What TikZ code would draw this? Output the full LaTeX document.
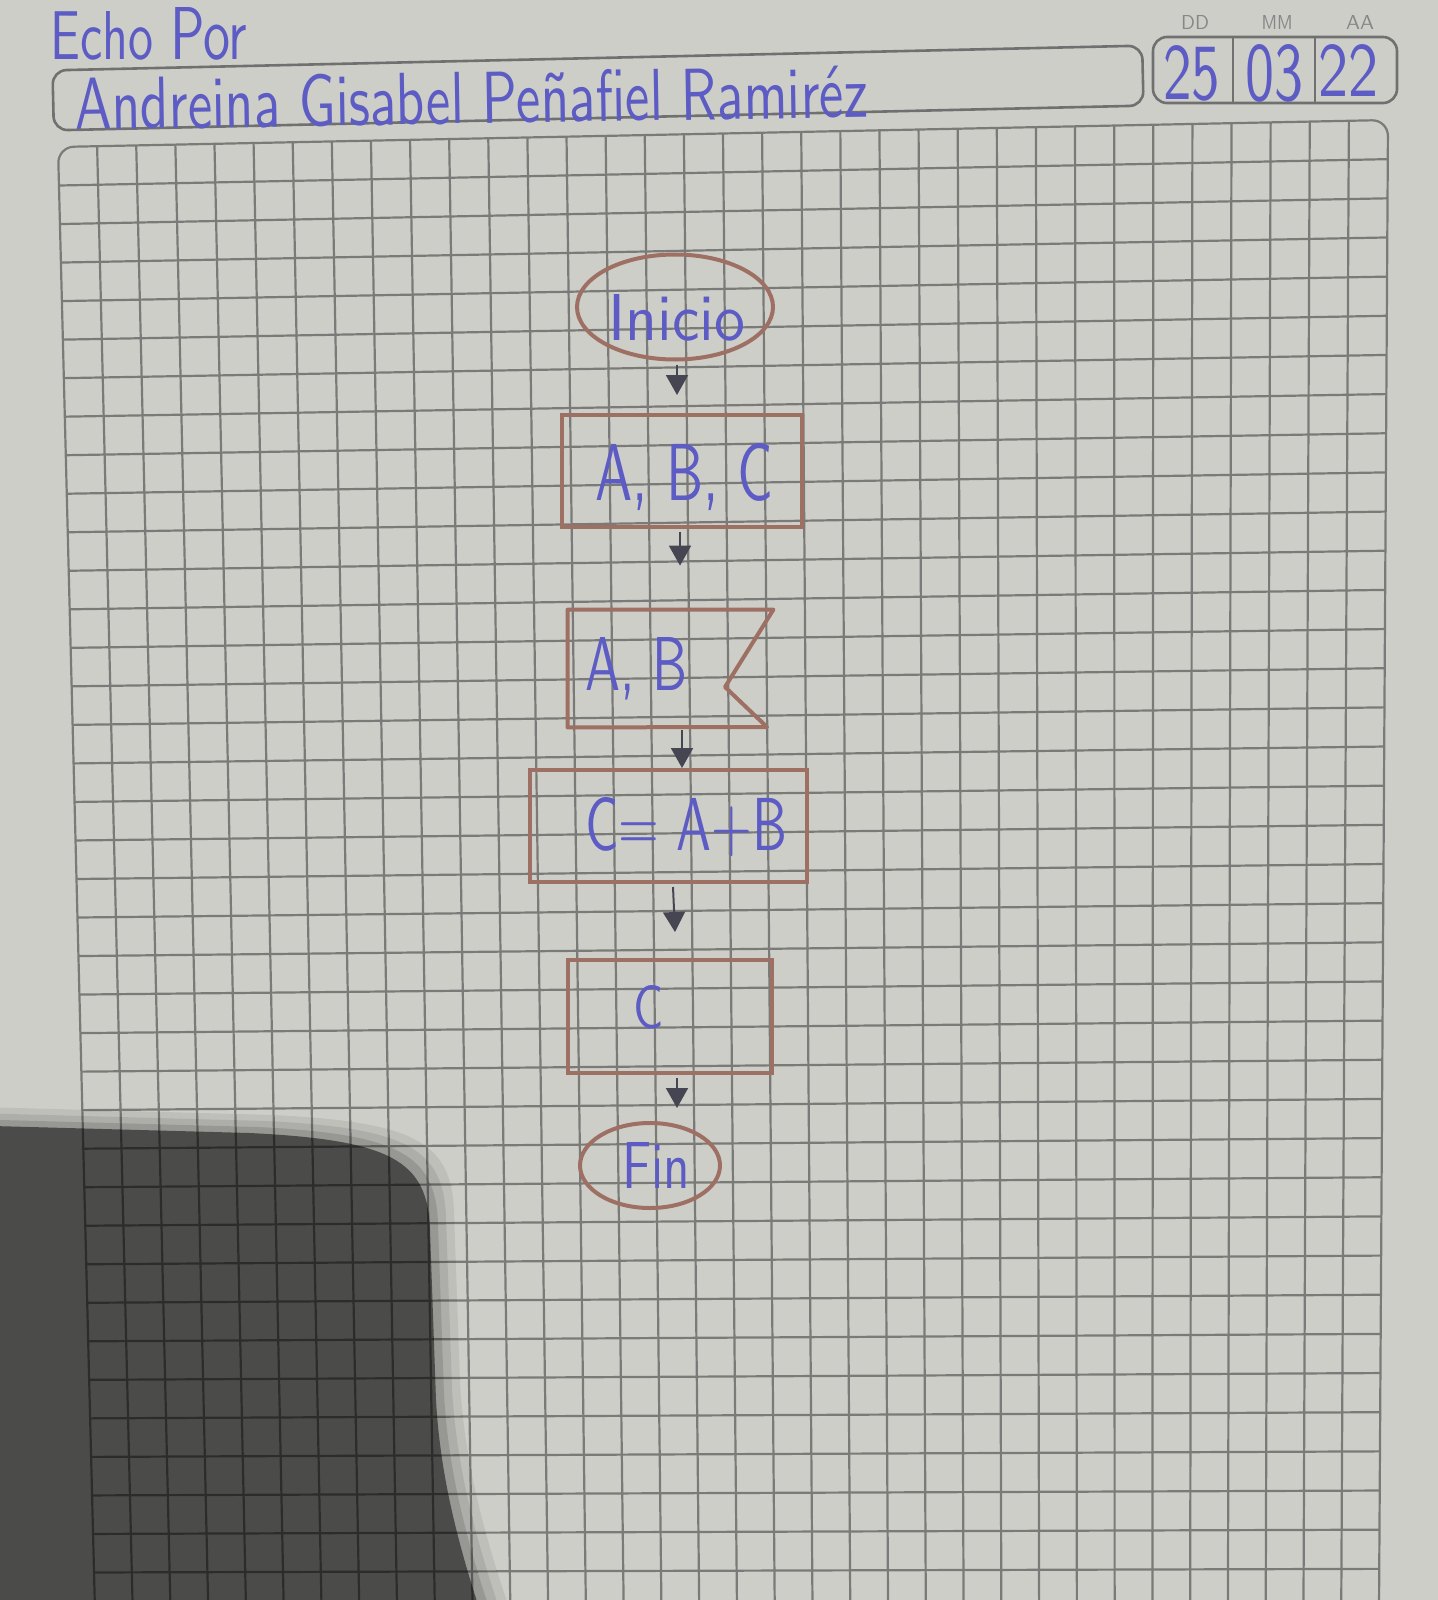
\documentclass[tikz,border=0pt]{standalone}
\usepackage{graphicx}
\usetikzlibrary{arrows.meta,shapes.geometric}
\newdimen\mypx \mypx=0.5pt
\newcommand\fit[3]{\resizebox{#1\mypx}{#2\mypx}{\sffamily #3}}
\newcommand\shadowpath{(-80,1124) -- (250,1133) .. controls (390,1140) and (428,1160) .. (430,1230) -- (436,1400) .. controls (440,1470) and (455,1540) .. (490,1640) -- (-80,1640) -- cycle}
\definecolor{paper}{RGB}{206,206,201}
\definecolor{gridgray}{RGB}{122,122,120}
\definecolor{boxgray}{RGB}{112,112,112}
\definecolor{labelgray}{RGB}{135,135,135}
\definecolor{inkblue}{RGB}{92,92,196}
\definecolor{pencil}{RGB}{158,112,100}
\definecolor{pen}{RGB}{70,70,82}
\begin{document}
\begin{tikzpicture}[x=0.5pt,y=-0.5pt,
  ink/.style={inner sep=0pt, anchor=base west, text=inkblue},
  shapebox/.style={draw=pencil, line width=2pt, inner sep=0pt},
  term/.style={shapebox, ellipse},
  proc/.style={shapebox, rectangle},
  flow/.style={draw=pen, line width=1pt, -{Triangle[width=11pt,length=10pt]}},
  gridline/.style={draw=gridgray, line width=1.1pt},
  hdrbox/.style={draw=boxgray, line width=1.3pt, rounded corners=7pt, inner sep=0pt}]
\useasboundingbox (0,0) rectangle (1438,1600);
\clip (0,0) rectangle (1438,1600);
\fill[paper] (0,0) rectangle (1438,1600);
% grid paper
\foreach \i in {1,...,33}{
  \pgfmathsetmacro\t{\i/34}
  \draw[gridline] ({58+1330*\t},{147-27*\t}) -- ({95+1284*\t},{1611-3*\t});
}
\foreach \k in {1,...,37}{
  \pgfmathsetmacro\s{\k/38}
  \draw[gridline] ({58+37*\s},{147+1464*\s}) -- ({1388-9*\s},{120+1488*\s});
}
\draw[gridline, rounded corners=8pt] (95,1611) -- (58,147) -- (1388,120) -- (1379,1608);
% header
\node[hdrbox, minimum width=545pt, minimum height=30pt, rotate=1.3] (namebox) at (598,88) {};
\node[hdrbox, minimum width=122pt, minimum height=33pt] (datebox) at (1275,70) {};
\draw[boxgray, line width=1.3pt] (1233,37) -- (1233,103);
\draw[boxgray, line width=1.3pt] (1315,37) -- (1315,103);
\node[inner sep=0pt, text=labelgray] (dd) at (1195,23) {\fit{28}{14}{DD}};
\node[inner sep=0pt, text=labelgray] (mm) at (1277,23) {\fit{31}{14}{MM}};
\node[inner sep=0pt, text=labelgray] (aa) at (1360,23) {\fit{28}{14}{AA}};
\node[ink] (dday) at (1163,100) {\fit{57}{54}{25}};
\node[ink] (mon) at (1245,100) {\fit{58}{56}{03}};
\node[ink] (yr) at (1318,97) {\fit{60}{52}{22}};
\node[ink] (echo) at (50,60) {\fit{103}{48}{Echo}};
\node[ink] (por) at (170,60) {\fit{77}{52}{Por}};
\node[ink, rotate=0.94] (name) at (75,130) {\fit{793}{52}{Andreina Gisabel Peñafiel Ramiréz}};
% flowchart
\node[term, minimum width=98pt, minimum height=52.5pt] (inicio) at (675,307) {};
\node[ink] (tinicio) at (608,340) {\fit{137}{46}{Inicio}};
\node[proc, minimum width=120pt, minimum height=56pt] (abc) at (682,471) {};
\node[ink] (tabc) at (595,500) {\fit{178}{57}{A, B, C}};
\node[inner sep=0pt, minimum width=102.5pt, minimum height=58.5pt] (ab) at (670.5,668.5) {};
\draw[pencil, line width=2pt, line join=round] (ab.north west) -- (ab.north east) -- (725,687) -- (767,727) -- (ab.south west) -- cycle;
\node[ink] (tab) at (585,690) {\fit{102}{53}{A, B}};
\node[proc, minimum width=138.5pt, minimum height=56pt] (calc) at (668.5,826) {};
\node[ink] (tcalc) at (585,850) {\fit{202}{53}{C= A+B}};
\node[proc, minimum width=102pt, minimum height=56.5pt] (out) at (670,1016.5) {};
\node[ink] (tout) at (633,1028) {\fit{30}{43}{C}};
\node[term, minimum width=70pt, minimum height=42.5pt] (fin) at (650,1165.5) {};
\node[ink] (tfin) at (622,1188) {\fit{68}{46}{Fin}};
\draw[flow] ([shift={(2,3)}]inicio.south) -- ([shift={(-5,-18)}]abc.north);
\draw[flow] ([shift={(-2,3)}]abc.south) -- ([shift={(9.5,-44)}]ab.north);
\draw[flow] ([shift={(11.5,3)}]ab.south) -- ([shift={(13.5,0)}]calc.north);
\draw[flow] ([shift={(4.5,3)}]calc.south) -- ([shift={(5,-26)}]out.north);
\draw[flow] ([shift={(7,3)}]out.south) -- ([shift={(27,-13)}]fin.north);
% shadow (soft edge from layered fills)
\begin{scope}[shift={(24,-18)}]\fill[black, opacity=0.07] \shadowpath;\end{scope}
\begin{scope}[shift={(16,-12)}]\fill[black, opacity=0.09] \shadowpath;\end{scope}
\begin{scope}[shift={(8,-6)}]\fill[black, opacity=0.12] \shadowpath;\end{scope}
\fill[black, opacity=0.5] \shadowpath;
\end{tikzpicture}
\end{document}
